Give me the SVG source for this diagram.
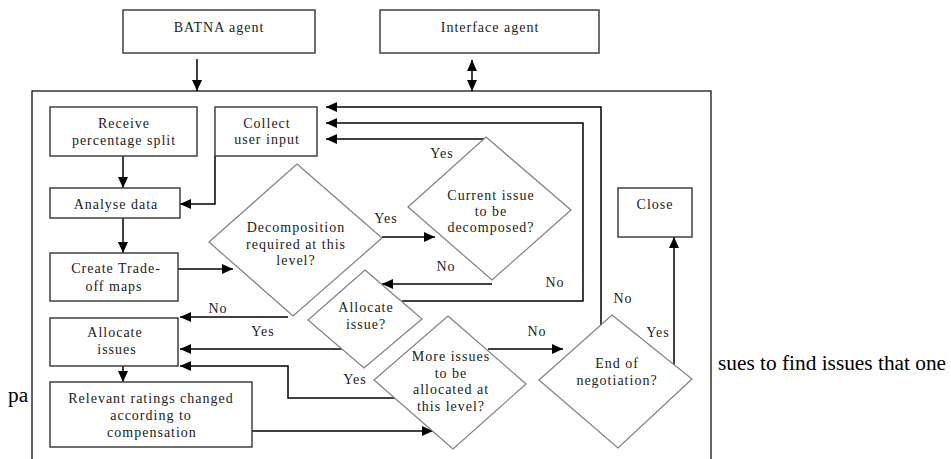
<svg xmlns="http://www.w3.org/2000/svg" width="951" height="459" viewBox="0 0 951 459">
<defs>
<marker id="ah" markerUnits="userSpaceOnUse" markerWidth="12" markerHeight="10" refX="11" refY="5" orient="auto-start-reverse">
<path d="M0,0 L11,5 L0,10 Z" fill="#000"/>
</marker>
<style>
.box{fill:#fff;stroke:#404040;stroke-width:1.5}
.dia{fill:#fff;stroke:#808080;stroke-width:1.2}
.t{font-family:"Liberation Serif","Times New Roman",serif;font-size:14px;letter-spacing:1px;fill:#222;text-anchor:middle}
.c{fill:none;stroke:#000;stroke-width:1.5}
.a{marker-end:url(#ah)}
.body{font-family:"Liberation Serif","Times New Roman",serif;font-size:21.33px;fill:#000}
</style>
</defs>
<rect width="951" height="459" fill="#fff"/>
<text class="body" x="8" y="402">pa</text>
<rect x="28" y="380" width="4" height="30" fill="#fff"/>
<text class="body" x="718" y="370">sues to find issues that one</text>
<rect x="32" y="91" width="679" height="400" fill="none" stroke="#000" stroke-width="1.2"/>

<g id="connectors">
<path class="c a" d="M197,59 V91"/>
<path class="c a" d="M472,91 V60" marker-start="url(#ah)"/>
<path class="c a" d="M123,156 V188"/>
<path class="c a" d="M123,218 V253"/>
<path class="c a" d="M215,156 V204 H180"/>
<path class="c a" d="M178,269 H233"/>
<path class="c a" d="M382,237 H435"/>
<path class="c a" d="M486,139 H326"/>
<path class="c a" d="M492,284 H382"/>
<path class="c a" d="M402,301 H583 V123 H326"/>
<path class="c a" d="M601,325 V107 H326"/>
<path class="c a" d="M288,317 H180"/>
<path class="c a" d="M343,349 H180"/>
<path class="c a" d="M395,398 H288 V366 H180"/>
<path class="c a" d="M123,366 V382"/>
<path class="c a" d="M252,431 H433"/>
<path class="c a" d="M488,349 H563"/>
<path class="c a" d="M674,365 V237"/>
</g>

<g id="labels">
<text class="t" x="442" y="158">Yes</text>
<text class="t" x="386" y="223">Yes</text>
<text class="t" x="446" y="271">No</text>
<text class="t" x="555" y="287">No</text>
<text class="t" x="218" y="313">No</text>
<text class="t" x="263" y="336">Yes</text>
<text class="t" x="355" y="384">Yes</text>
<text class="t" x="537" y="336">No</text>
<text class="t" x="623" y="303">No</text>
<text class="t" x="658" y="337">Yes</text>
</g>

<g id="batna"><rect class="box" x="123" y="10" width="192" height="43"/><text class="t" x="219" y="32">BATNA agent</text></g>
<g id="interface"><rect class="box" x="380" y="10" width="219" height="43"/><text class="t" x="490" y="32">Interface agent</text></g>
<g id="receive"><rect class="box" x="50" y="107" width="147" height="49"/><text class="t" x="124" y="128">Receive</text><text class="t" x="124" y="145">percentage split</text></g>
<g id="collect"><rect class="box" x="215" y="107" width="102" height="49"/><text class="t" x="267" y="128">Collect</text><text class="t" x="267" y="144">user input</text></g>
<g id="analyse"><rect class="box" x="50" y="188" width="130" height="30"/><text class="t" x="116" y="209">Analyse data</text></g>
<g id="create"><rect class="box" x="50" y="253" width="128" height="48"/><text class="t" x="116" y="273">Create Trade-</text><text class="t" x="114" y="291">off maps</text></g>
<g id="allocate-issues"><rect class="box" x="50" y="318" width="128" height="48"/><text class="t" x="115" y="337">Allocate</text><text class="t" x="117" y="354">issues</text></g>
<g id="relevant"><rect class="box" x="50" y="382" width="202" height="65"/><text class="t" x="151" y="403">Relevant ratings changed</text><text class="t" x="151" y="420">according to</text><text class="t" x="152" y="437">compensation</text></g>
<g id="decomposition"><polygon class="dia" points="297,164 382,238 293,316 209,242"/><text class="t" x="296" y="232">Decomposition</text><text class="t" x="296" y="249">required at this</text><text class="t" x="296" y="265">level?</text></g>
<g id="current"><polygon class="dia" points="486,137 571,210 492,280 408,207"/><text class="t" x="491" y="200">Current issue</text><text class="t" x="491" y="216">to be</text><text class="t" x="491" y="232">decomposed?</text></g>
<g id="allocate-issue"><polygon class="dia" points="365,270 422,319 364,368 308,320"/><text class="t" x="366" y="312">Allocate</text><text class="t" x="366" y="329">issue?</text></g>
<g id="more"><polygon class="dia" points="448,316 526,384 453,449 374,380"/><text class="t" x="451" y="361">More issues</text><text class="t" x="451" y="378">to be</text><text class="t" x="451" y="394">allocated at</text><text class="t" x="451" y="411">this level?</text></g>
<g id="end"><polygon class="dia" points="612,315 692,379 618,448 539,380"/><text class="t" x="617" y="368">End of</text><text class="t" x="617" y="385">negotiation?</text></g>
<g id="close"><rect class="box" x="618" y="188" width="74" height="49"/><text class="t" x="655" y="209">Close</text></g>
</svg>
